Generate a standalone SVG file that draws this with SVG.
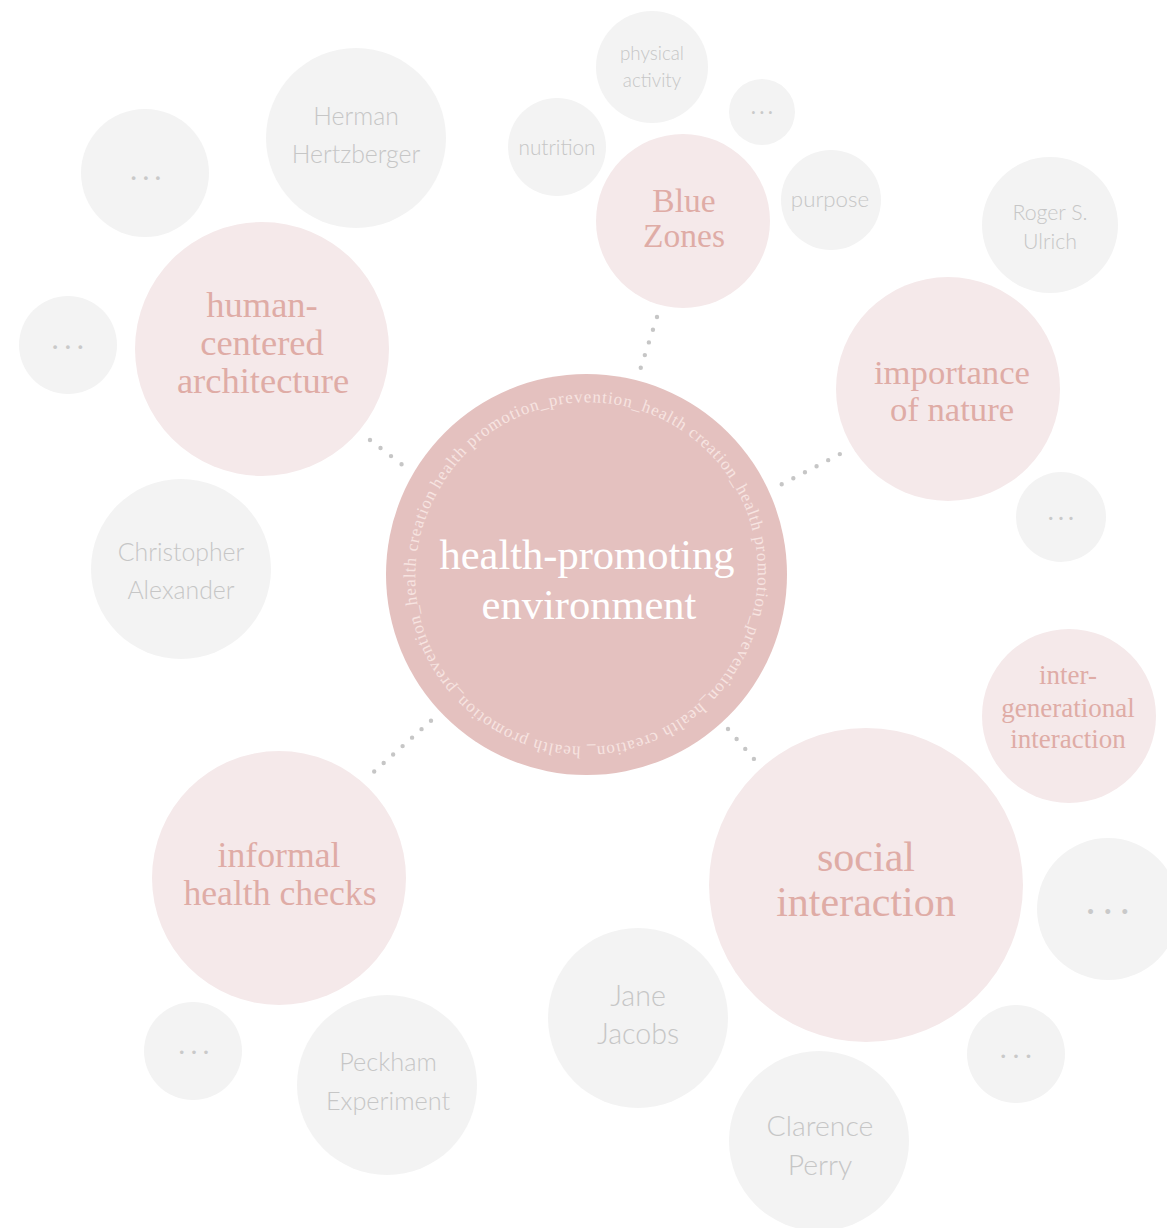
<svg xmlns="http://www.w3.org/2000/svg" width="1167" height="1228" viewBox="0 0 1167 1228">
  <defs>
    <style>
      .hub{fill:#e4c1bf}
      .topic{fill:#f5e9ea}
      .leaf{fill:#f3f3f3}
      .hub-label{font-family:"Liberation Serif",serif;fill:#ffffff;font-size:42.5px;text-anchor:middle}
      .ring{font-family:"Liberation Serif",serif;fill:#f7e4e1;font-size:17px;letter-spacing:1px}
      .topic-label{font-family:"Liberation Serif",serif;fill:#dfaca6;text-anchor:middle}
      .leaf-label{font-family:Lato,"Liberation Sans",sans-serif;font-weight:300;fill:#c6c6c6;text-anchor:middle}
      .dots{font-family:Lato,"Liberation Sans",sans-serif;font-weight:700;fill:#c9c9c9;text-anchor:middle}
      .link{stroke:#c6c6c6;stroke-width:4.4;stroke-linecap:round;fill:none}
    </style>
    <!-- baseline circle for the slogan that runs round the hub -->
    <path id="ring-path" d="M 439.3,489.5 A 170,170 0 1 1 733.7,659.5 A 170,170 0 1 1 439.3,489.5"/>
  </defs>

  <rect width="1167" height="1228" fill="#ffffff"/>

  <!-- dotted links from the hub to the main topics -->
  <g id="connectors">
    <path class="link" d="M657,317 L640.7,368" stroke-dasharray="0 13.33"/>
    <path class="link" d="M370,440 L401.7,464.3" stroke-dasharray="0 13.25"/>
    <path class="link" d="M781.7,484.3 L840,454" stroke-dasharray="0 13.1"/>
    <path class="link" d="M431,720.7 L374,771.7" stroke-dasharray="0 12.7"/>
    <path class="link" d="M728,729 L754,759" stroke-dasharray="0 13.18"/>
  </g>

  <!-- hub -->
  <g id="n-hub">
    <circle class="hub" cx="586.5" cy="574.5" r="200.5"/>
    <text class="ring"><textPath href="#ring-path">health promotion_prevention_health creation_health promotion_prevention_health creation_ health promotion_prevention_health creation_</textPath></text>
    <text class="hub-label" x="587" y="569">health-promoting</text>
    <text class="hub-label" x="589" y="619">environment</text>
  </g>

  <!-- main topics -->
  <g id="n-blue-zones">
    <circle class="topic" cx="683" cy="221" r="87"/>
    <text class="topic-label" font-size="33.5" x="684" y="212">Blue</text>
    <text class="topic-label" font-size="33.5" x="684" y="247">Zones</text>
  </g>
  <g id="n-human-centered-architecture">
    <circle class="topic" cx="262" cy="349" r="127"/>
    <text class="topic-label" font-size="36.5" x="262" y="317">human-</text>
    <text class="topic-label" font-size="36.5" x="262" y="355">centered</text>
    <text class="topic-label" font-size="36.5" x="263" y="393">architecture</text>
  </g>
  <g id="n-importance-of-nature">
    <circle class="topic" cx="948" cy="389" r="112"/>
    <text class="topic-label" font-size="34.7" x="952" y="384">importance</text>
    <text class="topic-label" font-size="34.7" x="952" y="421">of nature</text>
  </g>
  <g id="n-informal-health-checks">
    <circle class="topic" cx="279" cy="878" r="127"/>
    <text class="topic-label" font-size="35.7" x="279" y="867">informal</text>
    <text class="topic-label" font-size="35.7" x="280" y="905">health checks</text>
  </g>
  <g id="n-social-interaction">
    <circle class="topic" cx="866" cy="885" r="157"/>
    <text class="topic-label" font-size="42" x="866" y="871">social</text>
    <text class="topic-label" font-size="42" x="866" y="916">interaction</text>
  </g>
  <g id="n-intergenerational-interaction">
    <circle class="topic" cx="1069" cy="716" r="87"/>
    <text class="topic-label" font-size="27" x="1068" y="684">inter-</text>
    <text class="topic-label" font-size="27" x="1068" y="717">generational</text>
    <text class="topic-label" font-size="27" x="1068" y="748">interaction</text>
  </g>

  <!-- people and sub-themes -->
  <g id="n-physical-activity">
    <circle class="leaf" cx="652" cy="67" r="56"/>
    <text class="leaf-label" font-size="18.8" x="652" y="60">physical</text>
    <text class="leaf-label" font-size="18.8" x="652" y="87">activity</text>
  </g>
  <g id="n-nutrition">
    <circle class="leaf" cx="557" cy="147" r="49"/>
    <text class="leaf-label" font-size="20.8" x="557" y="155">nutrition</text>
  </g>
  <g id="n-purpose">
    <circle class="leaf" cx="831" cy="200" r="50"/>
    <text class="leaf-label" font-size="22.3" x="830" y="207">purpose</text>
  </g>
  <g id="n-blue-zones-more">
    <circle class="leaf" cx="762" cy="112" r="33"/>
    <text class="dots" font-size="18" letter-spacing="4.2" x="764" y="113.5">...</text>
  </g>
  <g id="n-herman-hertzberger">
    <circle class="leaf" cx="356" cy="138" r="90"/>
    <text class="leaf-label" font-size="24.8" x="356" y="125">Herman</text>
    <text class="leaf-label" font-size="24.8" x="356" y="163">Hertzberger</text>
  </g>
  <g id="n-architecture-more-1">
    <circle class="leaf" cx="145" cy="173" r="64"/>
    <text class="dots" font-size="24" letter-spacing="6.4" x="149" y="180">...</text>
  </g>
  <g id="n-architecture-more-2">
    <circle class="leaf" cx="68" cy="345" r="49"/>
    <text class="dots" font-size="24" letter-spacing="6.9" x="71.2" y="349">...</text>
  </g>
  <g id="n-christopher-alexander">
    <circle class="leaf" cx="181" cy="569" r="90"/>
    <text class="leaf-label" font-size="24.8" x="181" y="561">Christopher</text>
    <text class="leaf-label" font-size="24.8" x="181" y="599">Alexander</text>
  </g>
  <g id="n-roger-ulrich">
    <circle class="leaf" cx="1050" cy="225" r="68"/>
    <text class="leaf-label" font-size="21.3" x="1050" y="220">Roger S.</text>
    <text class="leaf-label" font-size="21.3" x="1050" y="249">Ulrich</text>
  </g>
  <g id="n-nature-more">
    <circle class="leaf" cx="1061" cy="517" r="45"/>
    <text class="dots" font-size="21" letter-spacing="5.1" x="1063.5" y="520">...</text>
  </g>
  <g id="n-social-more-1">
    <circle class="leaf" cx="1108" cy="909" r="71"/>
    <text class="dots" font-size="32" letter-spacing="9.6" x="1112.5" y="913.5">...</text>
  </g>
  <g id="n-social-more-2">
    <circle class="leaf" cx="1016" cy="1054" r="49"/>
    <text class="dots" font-size="23" letter-spacing="7.2" x="1019.5" y="1058">...</text>
  </g>
  <g id="n-jane-jacobs">
    <circle class="leaf" cx="638" cy="1018" r="90"/>
    <text class="leaf-label" font-size="28.6" x="638" y="1006">Jane</text>
    <text class="leaf-label" font-size="28.6" x="638" y="1044">Jacobs</text>
  </g>
  <g id="n-clarence-perry">
    <circle class="leaf" cx="819" cy="1141" r="90"/>
    <text class="leaf-label" font-size="28.4" x="820" y="1136">Clarence</text>
    <text class="leaf-label" font-size="28.4" x="820" y="1174.5">Perry</text>
  </g>
  <g id="n-peckham-experiment">
    <circle class="leaf" cx="387" cy="1085" r="90"/>
    <text class="leaf-label" font-size="25.3" x="388" y="1071">Peckham</text>
    <text class="leaf-label" font-size="25.3" x="388" y="1110">Experiment</text>
  </g>
  <g id="n-health-checks-more">
    <circle class="leaf" cx="193" cy="1051" r="49"/>
    <text class="dots" font-size="23" letter-spacing="6.6" x="197.2" y="1054">...</text>
  </g>
</svg>
